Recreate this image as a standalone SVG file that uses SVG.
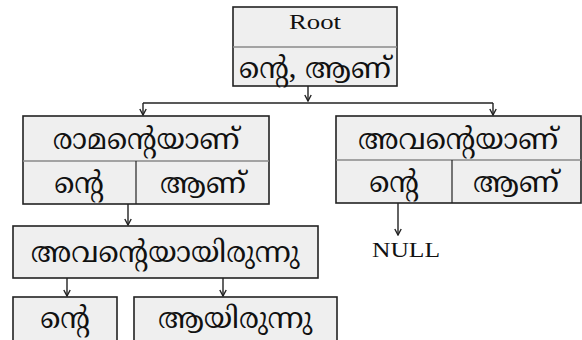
<svg xmlns="http://www.w3.org/2000/svg" width="582" height="340" viewBox="0 0 582 340">
<style>
.box{fill:#efefef;stroke:#222;stroke-width:1.6}
.div{stroke:#8a8a8a;stroke-width:1.5;fill:none}
.vdiv{stroke:#222;stroke-width:1.2;fill:none}
.ml{font-family:"Noto Serif Malayalam","Noto Sans Malayalam","Noto Sans",sans-serif;font-size:29px;fill:#111;text-anchor:middle}
.lat{font-family:"Liberation Serif",serif;font-size:20px;fill:#111;text-anchor:middle}
.c{stroke:#222;stroke-width:1.4;fill:none}
</style>
<defs>
<marker id="ah" markerWidth="8" markerHeight="8" refX="7.5" refY="4" orient="auto" markerUnits="userSpaceOnUse" viewBox="0 0 8 8">
<path d="M1.5,0.8 L7.5,4 L1.5,7.2" fill="none" stroke="#222" stroke-width="1.4"/>
</marker>
</defs>
<rect width="582" height="340" fill="#fff"/>
<g id="connectors">
<path class="c" d="M308,86 V101" marker-end="url(#ah)"/>
<path class="c" d="M143,103 H493"/>
<path class="c" d="M143,103 V115" marker-end="url(#ah)"/>
<path class="c" d="M493,103 V115" marker-end="url(#ah)"/>
<path class="c" d="M128,204 V225" marker-end="url(#ah)"/>
<path class="c" d="M398,203 V235" marker-end="url(#ah)"/>
<path class="c" d="M67,278 V296" marker-end="url(#ah)"/>
<path class="c" d="M223,278 V296" marker-end="url(#ah)"/>
</g>
<g id="root">
<rect class="box" x="233" y="7" width="164" height="79"/>
<line class="div" x1="233" y1="47" x2="397" y2="47"/>
<text class="lat" x="315" y="29" textLength="52" lengthAdjust="spacingAndGlyphs">Root</text>
<text class="ml" x="315" y="78">ന്റെ, ആണ്</text>
</g>
<g id="node-ramanteyanu">
<rect class="box" x="23" y="116" width="246" height="88"/>
<line class="div" x1="23" y1="161" x2="269" y2="161"/>
<line class="vdiv" x1="136" y1="161" x2="136" y2="204"/>
<text class="ml" x="146" y="149">രാമന്റെയാണ്</text>
<text class="ml" x="79" y="193">ന്റെ</text>
<text class="ml" x="203" y="193">ആണ്</text>
</g>
<g id="node-avanteyanu">
<rect class="box" x="336" y="116" width="245" height="87"/>
<line class="div" x1="336" y1="160" x2="581" y2="160"/>
<line class="vdiv" x1="452" y1="160" x2="452" y2="203"/>
<text class="ml" x="458" y="149">അവന്റെയാണ്</text>
<text class="ml" x="394" y="192">ന്റെ</text>
<text class="ml" x="516" y="192">ആണ്</text>
</g>
<g id="null">
<text class="lat" x="406" y="257" textLength="68" lengthAdjust="spacingAndGlyphs">NULL</text>
</g>
<g id="node-avanteyayirunnu">
<rect class="box" x="13" y="226" width="305" height="52"/>
<text class="ml" x="165" y="262" font-size="30.5">അവന്റെയായിരുന്നു</text>
</g>
<g id="node-nte">
<rect class="box" x="13" y="297" width="104" height="50"/>
<text class="ml" x="65" y="328">ന്റെ</text>
</g>
<g id="node-ayirunnu">
<rect class="box" x="134" y="297" width="203" height="50"/>
<text class="ml" x="235" y="328">ആയിരുന്നു</text>
</g>
</svg>
